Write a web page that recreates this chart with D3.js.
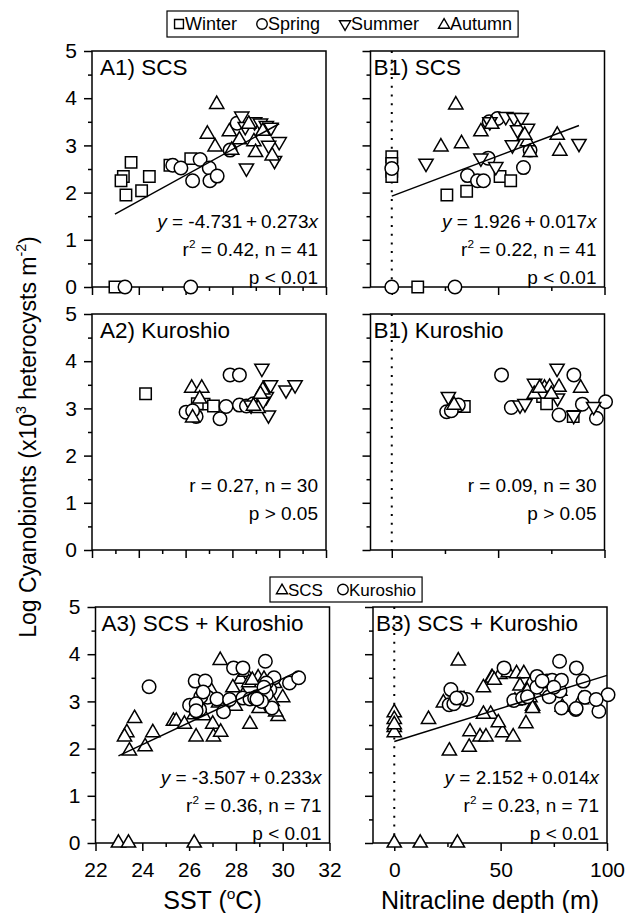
<!DOCTYPE html>
<html>
<head>
<meta charset="utf-8">
<script src="https://cdn.jsdelivr.net/npm/d3@7"></script>
<style>
body { margin: 0; background: #fff; }
svg { font-family: Arial, "Liberation Sans", sans-serif; }
</style>
</head>
<body>
<svg id="chart" width="627" height="913"></svg>
<script>
// SCS stations, SST (°C) vs log cyanobionts
const sstScsWinter = [[23.67,2.64],[23.34,2.34],[23.24,2.25],[24.45,2.34],[23.45,1.95],[24.12,2.04],[25.33,2.58],[26.22,2.72],[22.98,0]];
const sstScsSpring = [[25.45,2.58],[25.8,2.52],[26.62,2.7],[26.3,2.25],[27.01,2.52],[27.04,2.25],[27.35,2.35],[27.9,2.9],[28.2,3.47],[23.41,0],[26.22,0]];
const sstScsSummer = [[28.4,3.62],[28.55,3.4],[28.95,3.5],[29.2,3.47],[29.45,3.42],[29.65,3.38],[30.0,3.08],[29.55,3.0],[29.8,2.68],[28.6,2.52]];
const sstScsAutumn = [[27.33,3.87],[26.93,3.24],[27.26,2.97],[27.87,3.29],[27.97,2.9],[28.3,3.12],[28.92,3.08],[28.99,2.85],[29.7,2.78],[28.7,3.45],[29.3,3.3]];

// SCS stations, nitracline depth (m)
const nitScsWinter = [[0,2.76],[0,2.62],[0,2.45],[0,2.34],[25.9,1.95],[35.2,2.03],[50.9,2.34],[55.9,2.25],[12.2,0]];
const nitScsSpring = [[0,2.51],[35.6,2.36],[40.3,2.25],[43.1,2.25],[61.9,2.53],[45.8,3.5],[49.7,3.57],[45.3,2.73],[65,2.9],[0,0],[29.7,0]];
const nitScsSummer = [[16.1,2.62],[46.1,3.5],[53.6,3.61],[57.5,3.59],[60.9,3.59],[59.1,3.33],[63.8,3.36],[56.7,3.01],[41.9,2.73],[48.9,2.55],[88,3.04]];
const nitScsAutumn = [[30.1,3.86],[23.1,2.97],[32.8,3.04],[41.9,3.29],[63.8,3.08],[65,2.85],[77.8,3.22],[79,2.88],[62.5,3.22],[47,3.45]];

// Kuroshio stations, SST
const sstKurWinter = [[24.29,3.31],[26.79,3.09],[27.19,3.05],[26.5,3.1]];
const sstKurSpring = [[26.02,2.92],[26.45,2.83],[27.9,3.71],[28.3,3.71],[27.73,3.04],[27.47,2.78],[28.3,3.07],[28.6,3.05],[26.3,2.95],[28.9,3.1]];
const sstKurSummer = [[29.26,3.85],[29.63,3.5],[30.29,3.39],[30.68,3.5],[29.45,3.25],[29.54,2.86],[28.8,3.07],[29.3,3.15]];
const sstKurAutumn = [[26.26,3.43],[26.69,3.43],[29.3,3.39],[29.1,3.0],[26.3,2.8],[26.6,3.2],[28.9,3.05],[29.2,3.3]];

// Kuroshio stations, nitracline depth
const nitKurWinter = [[34.1,3.04],[70.9,3.25],[72.8,3.1],[85.3,2.83]];
const nitKurSpring = [[25.8,2.93],[31.3,3.07],[51.6,3.71],[56.2,3.02],[85.6,3.71],[89.6,3.09],[78.6,2.86],[96.2,2.79],[100.5,3.14],[28,2.95]];
const nitKurSummer = [[26.6,3.25],[60.3,3.07],[62.6,3.1],[67.1,3.53],[77.7,3.85],[77.9,3.22],[94.9,3.04],[85.5,2.85]];
const nitKurAutumn = [[29.3,3.07],[71.8,3.43],[74.2,3.45],[78.6,3.45],[88.8,3.43],[67,3.3],[75,3.3],[69.5,3.43]];

const seasonNames = ["Winter", "Spring", "Summer", "Autumn"];
const seasonShapes = ["square", "circle", "down", "up"];
const regionNames = ["SCS", "Kuroshio"];
const regionShapes = ["up", "circle"];

const yTicks = [0, 1, 2, 3, 4, 5];
const yMinor = [0.5, 1.5, 2.5, 3.5, 4.5];
const sstTicks = [22, 24, 26, 28, 30, 32];
const sstMinor = [23, 25, 27, 29, 31];
const nitTicks = [0, 50, 100];
const nitMinor = [25, 75];

const panelW = 234, panelH = 236;
const svg = d3.select("#chart");
const thin = "\u2009";

// build a marker path; k scales it down for legends
const markerPath = (shape, k = 1) => {
	if (shape === "square") return d3.symbol(d3.symbolSquare, 130 * k * k)();
	if (shape === "circle") return d3.symbol(d3.symbolCircle, 143 * k * k)();
	return d3.symbol(d3.symbolTriangle, 88 * k * k)();
};

const drawMarkers = (g, pts, shape, x, y) => {
	g.selectAll(null)
		.data(pts)
		.enter()
		.append("path")
		.attr("d", markerPath(shape))
		.attr("transform", d => `translate(${x(d[0])},${y(d[1])})` + (shape === "down" ? " rotate(180)" : ""))
		.attr("fill", "#fff")
		.attr("stroke", "#000")
		.attr("stroke-width", 1.5);
};

// text with italic / superscript pieces
const richText = (sel, parts, fs) => {
	let shifted = false;
	parts.forEach(p => {
		const ts = sel.append("tspan").text(p.t);
		if (p.i) ts.attr("font-style", "italic");
		if (p.sup) {
			ts.attr("font-size", fs * 0.62).attr("dy", -fs * 0.42);
			shifted = true;
		} else if (shifted) {
			ts.attr("dy", fs * 0.42);
			shifted = false;
		}
	});
};

const drawPanel = cfg => {
	const g = svg.append("g").attr("transform", `translate(${cfg.left},${cfg.top})`);
	const x = d3.scaleLinear().domain(cfg.xDomain).range([0, panelW]);
	const y = d3.scaleLinear().domain([0, 5]).range([panelH, 0]);

	// axes, major and minor ticks pointing out
	g.append("g").call(d3.axisLeft(y).tickValues(yTicks).tickSize(8).tickPadding(7)
		.tickFormat(cfg.yLabels ? d3.format("d") : ""));
	g.append("g").call(d3.axisLeft(y).tickValues(yMinor).tickSize(4).tickFormat(""));
	g.append("g").attr("transform", `translate(0,${panelH})`)
		.call(d3.axisBottom(x).tickValues(cfg.xTicks).tickSize(8).tickPadding(11)
			.tickFormat(cfg.xLabels ? d3.format("d") : ""));
	g.append("g").attr("transform", `translate(0,${panelH})`)
		.call(d3.axisBottom(x).tickValues(cfg.xMinor).tickSize(4).tickFormat(""));
	g.selectAll(".domain").remove();
	g.selectAll(".tick line").attr("stroke-width", 1.5);
	g.selectAll(".tick text").attr("font-size", 21).attr("fill", "#000");

	g.append("rect")
		.attr("width", panelW).attr("height", panelH)
		.attr("fill", "none").attr("stroke", "#000").attr("stroke-width", 1.5);

	if (cfg.dotted) {
		g.append("line")
			.attr("x1", x(0)).attr("x2", x(0)).attr("y1", 0).attr("y2", panelH)
			.attr("stroke", "#000").attr("stroke-width", 2).attr("stroke-dasharray", "2 6.7");
	}

	cfg.groups.forEach(grp => drawMarkers(g, grp.pts, grp.shape, x, y));

	if (cfg.fit) {
		const all = cfg.groups.flatMap(grp => grp.pts);
		const ext = d3.extent(all, d => d[0]);
		const x1 = Math.min(ext[1], cfg.xDomain[1]);
		const line = d3.line().x(d => x(d[0])).y(d => y(d[1]));
		g.append("path")
			.attr("d", line([[ext[0], cfg.fit[0] + cfg.fit[1] * ext[0]], [x1, cfg.fit[0] + cfg.fit[1] * x1]]))
			.attr("stroke", "#000").attr("stroke-width", 1.5).attr("fill", "none");
	}

	g.append("text")
		.attr("x", cfg.labelDx).attr("y", 24)
		.attr("font-size", 22.5)
		.text(cfg.label);

	cfg.stats.forEach((parts, i) => {
		const t = g.append("text")
			.attr("x", panelW - 8)
			.attr("y", panelH - cfg.statsBottom - (cfg.stats.length - 1 - i) * 28)
			.attr("text-anchor", "end")
			.attr("font-size", 19);
		richText(t, parts, 19);
	});
};

const bySeason = sets => sets.map((pts, i) => ({pts, shape: seasonShapes[i]}));
const fitText = (a, b) => [{t: "y", i: 1}, {t: ` = ${a}${thin}+${thin}${b}`}, {t: "x", i: 1}];
const r2Text = (r2, n) => [{t: "r"}, {t: "2", sup: 1}, {t: ` = ${r2}, n = ${n}`}];

const panels = [
	{left: 92, top: 51, xDomain: [22, 32], xTicks: sstTicks, xMinor: sstMinor, yLabels: true, labelDx: 8,
		label: "A1) SCS", fit: [-4.731, 0.273], statsBottom: 3,
		groups: bySeason([sstScsWinter, sstScsSpring, sstScsSummer, sstScsAutumn]),
		stats: [fitText("-4.731", "0.273"), r2Text("0.42", 41), [{t: "p < 0.01"}]]},
	{left: 370.5, top: 51, xDomain: [-10, 100], xTicks: nitTicks, xMinor: nitMinor, dotted: true, labelDx: 3,
		label: "B1) SCS", fit: [1.926, 0.017], statsBottom: 3,
		groups: bySeason([nitScsWinter, nitScsSpring, nitScsSummer, nitScsAutumn]),
		stats: [fitText("1.926", "0.017"), r2Text("0.22", 41), [{t: "p < 0.01"}]]},
	{left: 92, top: 314, xDomain: [22, 32], xTicks: sstTicks, xMinor: sstMinor, yLabels: true, labelDx: 8,
		label: "A2) Kuroshio", statsBottom: 30,
		groups: bySeason([sstKurWinter, sstKurSpring, sstKurSummer, sstKurAutumn]),
		stats: [[{t: "r = 0.27, n = 30"}], [{t: "p > 0.05"}]]},
	{left: 370.5, top: 314, xDomain: [-10, 100], xTicks: nitTicks, xMinor: nitMinor, dotted: true, labelDx: 3,
		label: "B1) Kuroshio", statsBottom: 30,
		groups: bySeason([nitKurWinter, nitKurSpring, nitKurSummer, nitKurAutumn]),
		stats: [[{t: "r = 0.09, n = 30"}], [{t: "p > 0.05"}]]},
	{left: 95.5, top: 607, xDomain: [22, 32], xTicks: sstTicks, xMinor: sstMinor, yLabels: true, xLabels: true, labelDx: 6,
		label: "A3) SCS + Kuroshio", fit: [-3.507, 0.233], statsBottom: 3,
		groups: [
			{pts: [].concat(sstScsWinter, sstScsSpring, sstScsSummer, sstScsAutumn), shape: regionShapes[0]},
			{pts: [].concat(sstKurWinter, sstKurSpring, sstKurSummer, sstKurAutumn), shape: regionShapes[1]}],
		stats: [fitText("-3.507", "0.233"), r2Text("0.36", 71), [{t: "p < 0.01"}]]},
	{left: 373, top: 607, xDomain: [-10, 100], xTicks: nitTicks, xMinor: nitMinor, dotted: true, xLabels: true, labelDx: 3,
		label: "B3) SCS + Kuroshio", fit: [2.152, 0.014], statsBottom: 3,
		groups: [
			{pts: [].concat(nitScsWinter, nitScsSpring, nitScsSummer, nitScsAutumn), shape: regionShapes[0]},
			{pts: [].concat(nitKurWinter, nitKurSpring, nitKurSummer, nitKurAutumn), shape: regionShapes[1]}],
		stats: [fitText("2.152", "0.014"), r2Text("0.23", 71), [{t: "p < 0.01"}]]}
];

panels.forEach(drawPanel);

// legends: symbol followed by its name, boxed
const drawLegend = (x0, y0, h, names, shapes, gap, fs) => {
	const g = svg.append("g").attr("transform", `translate(${x0},${y0})`);
	let cx = 7;
	names.forEach((name, i) => {
		g.append("path")
			.attr("d", markerPath(shapes[i], 0.78))
			.attr("transform", `translate(${cx + 5},${h / 2 + (shapes[i] === "up" ? 1 : 0)})` + (shapes[i] === "down" ? " rotate(180)" : ""))
			.attr("fill", "#fff").attr("stroke", "#000").attr("stroke-width", 1.4);
		const t = g.append("text")
			.attr("x", cx + 11).attr("y", h / 2 + fs * 0.36)
			.attr("font-size", fs)
			.text(name);
		cx += 11 + t.node().getComputedTextLength() + gap;
	});
	g.insert("rect", ":first-child")
		.attr("width", cx - gap + 6).attr("height", h)
		.attr("fill", "#fff").attr("stroke", "#000").attr("stroke-width", 1.2);
};

drawLegend(167, 11, 26, seasonNames, seasonShapes, 20, 18);
drawLegend(270, 577, 25, regionNames, regionShapes, 15, 17);

// axis titles
const yTitle = svg.append("text")
	.attr("transform", "translate(36,437) rotate(-90)")
	.attr("text-anchor", "middle")
	.attr("font-size", 23);
richText(yTitle, [{t: "Log Cyanobionts (x10"}, {t: "3", sup: 1}, {t: " heterocysts m"}, {t: "-2", sup: 1}, {t: ")"}], 23);

const sstTitle = svg.append("text")
	.attr("x", 95.5 + panelW / 2).attr("y", 909)
	.attr("text-anchor", "middle")
	.attr("font-size", 25);
richText(sstTitle, [{t: "SST ("}, {t: "o", sup: 1}, {t: "C)"}], 25);

svg.append("text")
	.attr("x", 373 + panelW / 2).attr("y", 909)
	.attr("text-anchor", "middle")
	.attr("font-size", 25)
	.text("Nitracline depth (m)");
</script>
</body>
</html>
